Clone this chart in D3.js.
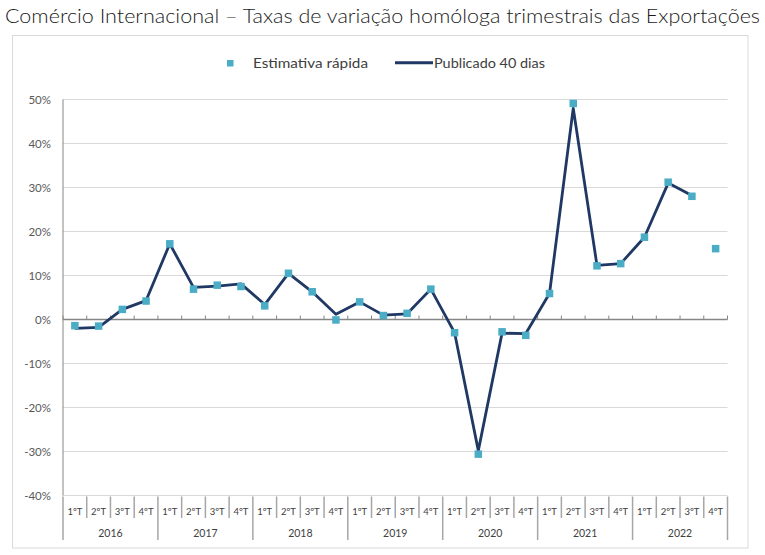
<!DOCTYPE html>
<html>
<head>
<meta charset="utf-8">
<script src="https://cdn.jsdelivr.net/npm/d3@7"></script>
<style>
  html, body { margin: 0; padding: 0; background: #fff; }
  svg { display: block; font-family: Lato, "Open Sans", sans-serif; }
</style>
</head>
<body>
<svg id="chart" width="765" height="555"></svg>
<script>
const titleText = "Comércio Internacional – Taxas de variação homóloga trimestrais das Exportações";
const years = ["2016", "2017", "2018", "2019", "2020", "2021", "2022"];
const quarters = ["1ºT", "2ºT", "3ºT", "4ºT"];
const seriesNames = ["Estimativa rápida", "Publicado 40 dias"];
const estimativa = [-1.4, -1.5, 2.3, 4.2, 17.2, 6.9, 7.8, 7.5, 3.1, 10.5, 6.3, -0.1, 4.0, 0.9,
  1.4, 6.9, -3.0, -30.6, -2.8, -3.6, 5.9, 49.1, 12.2, 12.7, 18.7, 31.2, 28.0, 16.1];
const publicado = [-2.0, -1.8, 2.3, 4.3, 17.2, 7.3, 7.6, 8.1, 3.4, 10.5, 6.3, 1.2, 4.0, 1.0,
  1.3, 6.9, -3.0, -29.8, -3.1, -3.2, 5.9, 48.0, 12.3, 12.7, 18.7, 31.0, 28.2, null];
const yTicks = [-40, -30, -20, -10, 0, 10, 20, 30, 40, 50];

const categories = [];
years.forEach(yr => quarters.forEach(q => categories.push(yr + "-" + q)));

const svg = d3.select("#chart");
const pLeft = 63, pRight = 727.5, pTop = 99.5, pBottom = 495.5;

const x = d3.scaleBand().domain(categories).range([pLeft, pRight]).padding(0);
const y = d3.scaleLinear().domain([-40, 50]).range([pBottom, pTop]);

// Title
svg.append("text").attr("x", 5).attr("y", 23)
  .attr("font-size", 20).attr("font-weight", 300).attr("fill", "#1a1a1a")
  .attr("textLength", 755).attr("lengthAdjust", "spacingAndGlyphs")
  .text(titleText);

// Chart box
svg.append("rect").attr("x", 12.5).attr("y", 35.5).attr("width", 735.5).attr("height", 512.5)
  .attr("fill", "none").attr("stroke", "#d9d9d9").attr("stroke-width", 1);

// Legend
const lg = svg.append("g");
lg.append("rect").attr("x", 227).attr("y", 60).attr("width", 6.5).attr("height", 6.5).attr("fill", "#4bacc6");
lg.append("text").attr("x", 253).attr("y", 67.5).attr("font-size", 13).attr("fill", "#404040")
  .attr("textLength", 115).attr("lengthAdjust", "spacingAndGlyphs").text(seriesNames[0]);
lg.append("line").attr("x1", 395).attr("x2", 433).attr("y1", 62.7).attr("y2", 62.7)
  .attr("stroke", "#1f3864").attr("stroke-width", 3);
lg.append("text").attr("x", 434).attr("y", 67.5).attr("font-size", 13).attr("fill", "#404040")
  .attr("textLength", 111).attr("lengthAdjust", "spacingAndGlyphs").text(seriesNames[1]);

// Gridlines
svg.append("g").selectAll("line").data(yTicks.filter(t => t !== 0)).join("line")
  .attr("x1", pLeft).attr("x2", pRight)
  .attr("y1", d => y(d)).attr("y2", d => y(d))
  .attr("stroke", "#d9d9d9").attr("stroke-width", 1);

// Y axis
const yAxis = d3.axisLeft(y).tickValues(yTicks).tickSize(0).tickPadding(12)
  .tickFormat(d => d + "%");
const yg = svg.append("g").attr("transform", `translate(${pLeft},0)`).call(yAxis);
yg.select(".domain").remove();
yg.selectAll("text").attr("font-size", 11.5).attr("fill", "#595959").attr("font-family", "Lato, sans-serif");
svg.append("line").attr("x1", pLeft).attr("x2", pLeft).attr("y1", pTop).attr("y2", pBottom)
  .attr("stroke", "#868686").attr("stroke-width", 1);

// Zero axis with tick marks
const boundaries = d3.range(categories.length + 1).map(i => pLeft + i * x.bandwidth());
svg.append("line").attr("x1", pLeft).attr("x2", pRight).attr("y1", y(0)).attr("y2", y(0))
  .attr("stroke", "#868686").attr("stroke-width", 1.3);
svg.append("g").selectAll("line").data(boundaries).join("line")
  .attr("x1", d => d).attr("x2", d => d).attr("y1", y(0) - 4).attr("y2", y(0))
  .attr("stroke", "#868686").attr("stroke-width", 1);

// Category axis at bottom (multi-level)
const cat = svg.append("g");
cat.selectAll("line").data(boundaries).join("line")
  .attr("x1", d => d).attr("x2", d => d)
  .attr("y1", pBottom + 1)
  .attr("y2", (d, i) => i % 4 === 0 ? 540 : 518)
  .attr("stroke", "#a6a6a6").attr("stroke-width", 1.5);
cat.selectAll("text.q").data(categories).join("text").attr("class", "q")
  .attr("x", d => x(d) + x.bandwidth() / 2).attr("y", 515)
  .attr("text-anchor", "middle").attr("font-size", 9.5).attr("fill", "#404040")
  .text(d => d.split("-")[1]);
cat.selectAll("text.yr").data(years).join("text").attr("class", "yr")
  .attr("x", d => (x(d + "-" + quarters[0]) + x(d + "-" + quarters[3]) + x.bandwidth()) / 2)
  .attr("y", 536.5).attr("text-anchor", "middle").attr("font-size", 10.5).attr("fill", "#404040")
  .text(d => d);

// Line series
const line = d3.line()
  .defined(d => d[1] !== null)
  .x(d => x(d[0]) + x.bandwidth() / 2)
  .y(d => y(d[1]));
svg.append("path").datum(categories.map((c, i) => [c, publicado[i]]))
  .attr("d", line).attr("fill", "none").attr("stroke", "#1f3864")
  .attr("stroke-width", 2.8).attr("stroke-linejoin", "round");

// Markers
const ms = 7.5;
svg.append("g").selectAll("rect").data(categories.map((c, i) => [c, estimativa[i]])).join("rect")
  .attr("x", d => x(d[0]) + x.bandwidth() / 2 - ms / 2)
  .attr("y", d => y(d[1]) - ms / 2)
  .attr("width", ms).attr("height", ms)
  .attr("fill", "#4bacc6");
</script>
</body>
</html>
